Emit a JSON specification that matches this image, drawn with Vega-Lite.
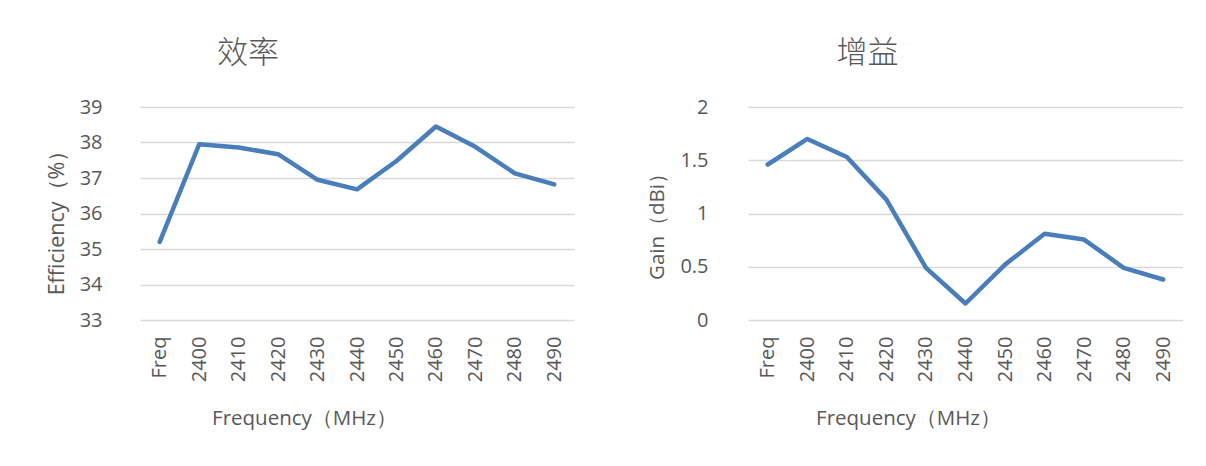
{
  "$schema": "https://vega.github.io/schema/vega-lite/v6.json",
  "autosize": {"type": "pad"},
  "padding": {"left": 45, "top": 38, "right": 0, "bottom": 30},
  "background": "white",
  "data": {
    "values": [
      {"freq": "Freq", "efficiency": 35.2, "gain": 1.46},
      {"freq": "2400", "efficiency": 37.95, "gain": 1.7},
      {"freq": "2410", "efficiency": 37.86, "gain": 1.53},
      {"freq": "2420", "efficiency": 37.67, "gain": 1.13},
      {"freq": "2430", "efficiency": 36.95, "gain": 0.49},
      {"freq": "2440", "efficiency": 36.68, "gain": 0.155},
      {"freq": "2450", "efficiency": 37.48, "gain": 0.52},
      {"freq": "2460", "efficiency": 38.45, "gain": 0.81},
      {"freq": "2470", "efficiency": 37.88, "gain": 0.755},
      {"freq": "2480", "efficiency": 37.13, "gain": 0.49},
      {"freq": "2490", "efficiency": 36.82, "gain": 0.38}
    ]
  },
  "config": {
    "view": {"stroke": null},
    "font": "Open Sans",
    "axis": {
      "labelColor": "#595959",
      "titleColor": "#595959",
      "labelFont": "Open Sans",
      "titleFont": "Open Sans",
      "labelFontSize": 20,
      "titleFontSize": 20.5,
      "titleFontWeight": "normal",
      "ticks": false,
      "domain": false,
      "gridColor": "#d9d9d9",
      "gridWidth": 1.5
    },
    "title": {
      "font": "Noto Sans CJK SC",
      "fontSize": 31,
      "fontWeight": 300,
      "color": "#595959",
      "anchor": "middle",
      "baseline": "bottom",
      "offset": 27
    }
  },
  "bounds": "flush",
  "spacing": 174,
  "hconcat": [
    {
      "width": 434,
      "height": 213,
      "title": {"text": "效率", "dx": -109},
      "mark": {"type": "line", "color": "#4a7ebb", "strokeWidth": 4.5, "strokeCap": "round", "strokeJoin": "round"},
      "encoding": {
        "x": {
          "field": "freq", "type": "ordinal", "sort": null,
          "scale": {"paddingInner": 0, "paddingOuter": 0.5},
          "axis": {"labelAngle": -90, "labelPadding": 16, "grid": false,
                   "title": "Frequency（MHz）", "titleX": 164, "titleY": 98, "titleBaseline": "middle", "titleAlign": "center"}
        },
        "y": {
          "field": "efficiency", "type": "quantitative",
          "scale": {"domain": [33, 39], "nice": false, "zero": false},
          "axis": {"values": [33, 34, 35, 36, 37, 38, 39], "labelPadding": 38, "grid": true,
                   "title": "Efficiency（%）", "titleFontSize": 21.5, "titleX": -83, "titleY": 110, "titleBaseline": "middle", "titleAlign": "center", "titleAngle": -90}
        }
      }
    },
    {
      "width": 435,
      "height": 213,
      "title": {"text": "增益", "dx": -98},
      "mark": {"type": "line", "color": "#4a7ebb", "strokeWidth": 4.5, "strokeCap": "round", "strokeJoin": "round"},
      "encoding": {
        "x": {
          "field": "freq", "type": "ordinal", "sort": null,
          "scale": {"paddingInner": 0, "paddingOuter": 0.5},
          "axis": {"labelAngle": -90, "labelPadding": 16, "grid": false,
                   "title": "Frequency（MHz）", "titleX": 160, "titleY": 98, "titleBaseline": "middle", "titleAlign": "center"}
        },
        "y": {
          "field": "gain", "type": "quantitative",
          "scale": {"domain": [0, 2], "nice": false},
          "axis": {"values": [0, 0.5, 1, 1.5, 2], "format": "~g", "labelPadding": 40, "grid": true,
                   "title": "Gain（dBi）", "titleX": -91, "titleY": 114, "titleBaseline": "middle", "titleAlign": "center", "titleAngle": -90}
        }
      }
    }
  ]
}
